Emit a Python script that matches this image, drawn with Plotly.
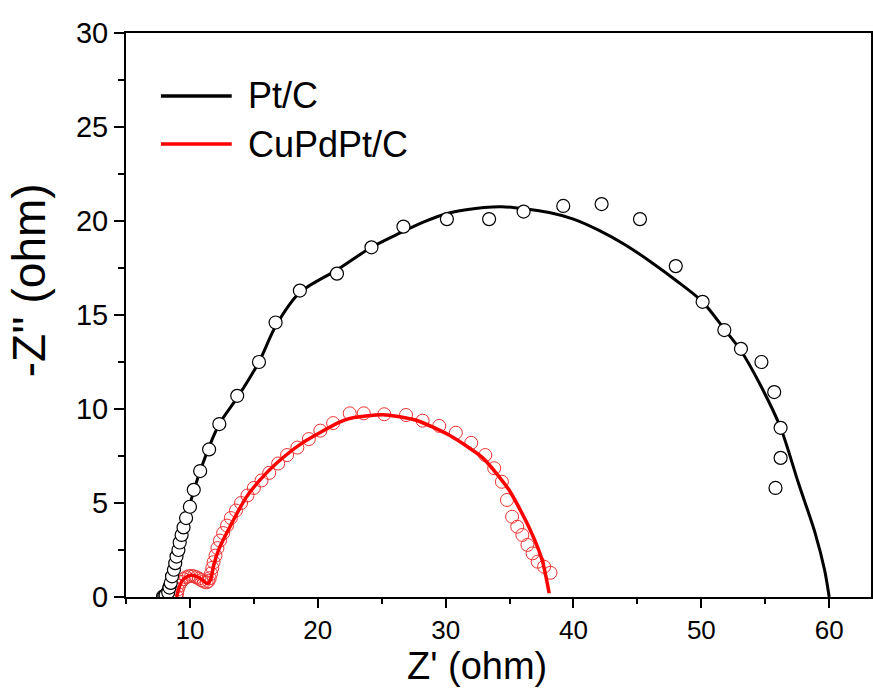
import plotly.graph_objects as go

# Pt/C measured points
pt_x = [7.9, 8.0, 8.1, 8.3, 8.4, 8.5, 8.6, 8.75, 8.85, 8.95, 9.1, 9.2, 9.35, 9.5, 9.7, 10.0, 10.3, 10.8,
        11.5, 12.3, 13.7, 15.4, 16.7, 18.6, 21.5, 24.2, 26.7, 30.1, 33.4, 36.1, 39.2, 42.2, 45.2, 48.0,
        50.1, 51.8, 53.1, 54.7, 55.7, 56.2, 56.2, 55.8]
pt_y = [0.02, 0.05, 0.1, 0.25, 0.5, 0.75, 1.1, 1.45, 1.8, 2.15, 2.5, 2.9, 3.3, 3.7, 4.2, 4.8, 5.7, 6.7,
        7.85, 9.2, 10.7, 12.5, 14.6, 16.3, 17.2, 18.6, 19.7, 20.1, 20.1, 20.5, 20.8, 20.9, 20.1, 17.6,
        15.7, 14.2, 13.2, 12.5, 10.9, 9.0, 7.4, 5.8]

# Pt/C fitted curve
pt_fit_x = [7.7, 8.0, 8.5, 9.0, 9.7, 10.8, 12.3, 13.8, 15.4, 16.7, 18.6, 21.5, 24.2, 26.4, 28.3, 30.1,
            31.6, 33.0, 34.4, 36.1, 38.1, 40.0, 42.0, 44.0, 46.0, 48.0, 50.1, 51.8, 53.1, 54.6, 56.2,
            57.6, 58.9, 59.65, 60.0]
pt_fit_y = [0.0, 0.6, 1.4, 2.25, 4.2, 6.7, 9.2, 10.7, 12.5, 14.4, 16.2, 17.4, 18.6, 19.35, 19.95, 20.4,
            20.6, 20.72, 20.76, 20.65, 20.45, 20.1, 19.5, 18.75, 17.85, 16.85, 15.7, 14.25, 13.1, 11.3, 9.0,
            6.05, 3.4, 1.4, 0.0]

# CuPdPt/C measured points
cu_x = [8.95, 9.0, 9.05, 9.15, 9.3, 9.5, 9.7, 9.9, 10.1, 10.3, 10.5, 10.7, 10.9, 11.1, 11.3, 11.45,
        11.55, 11.65, 11.75, 11.85, 12.0, 12.15, 12.35, 12.6, 12.9, 13.2, 13.6, 14.0, 14.5, 15.0, 15.6,
        16.2, 16.9, 17.6, 18.4, 19.3, 20.2, 21.2, 22.5, 23.6, 25.2, 26.9, 28.2, 29.5, 30.8, 32.0, 33.1,
        33.8, 34.4, 34.8, 35.2, 35.6, 36.0, 36.4, 36.8, 37.2, 37.7, 38.2]
cu_y = [0.05, 0.2, 0.4, 0.6, 0.8, 0.95, 1.05, 1.1, 1.12, 1.1, 1.05, 0.98, 0.9, 0.82, 0.78, 0.85,
        1.0, 1.25, 1.55, 1.85, 2.2, 2.6, 3.0, 3.4, 3.8, 4.2, 4.6, 5.0, 5.4, 5.8, 6.2,
        6.6, 7.1, 7.55, 7.95, 8.4, 8.85, 9.25, 9.77, 9.77, 9.72, 9.68, 9.38, 9.1, 8.74, 8.2, 7.55,
        6.85, 6.13, 5.16, 4.27, 3.74, 3.3, 2.77, 2.32, 1.88, 1.61, 1.29]

# CuPdPt/C fitted curve
cu_fit_x = [8.95, 9.2, 9.5, 10.0, 10.5, 11.0, 11.35, 11.6, 11.9, 12.3, 13.1, 14.4, 15.45, 16.75, 18.8,
            21.7, 22.5, 25.1, 27.7, 30.3, 32.9, 34.95, 36.5, 37.55, 38.1]
cu_fit_y = [0.0, 0.6, 0.95, 1.15, 1.1, 0.9, 0.7, 0.9, 1.8, 2.6, 3.7, 5.3, 6.2, 7.1, 8.2,
            9.3, 9.5, 9.7, 9.4, 8.6, 7.4, 5.7, 3.74, 1.97, 0.2]

series_names = ["Pt/C", "CuPdPt/C"]
x_ticks = [10, 20, 30, 40, 50, 60]
y_ticks = [0, 5, 10, 15, 20, 25, 30]

RED = "#ff0000"
FONT = "Arial, Liberation Sans, sans-serif"

fig = go.Figure()
fig.add_trace(go.Scatter(x=cu_x, y=cu_y, mode="markers", showlegend=False,
                         marker=dict(symbol="circle-open", size=13, color="#ee3030",
                                     line=dict(width=1, color="#ee3030"))))
fig.add_trace(go.Scatter(x=cu_fit_x, y=cu_fit_y, mode="lines", name=series_names[1], showlegend=False,
                         line=dict(color=RED, width=3.5, shape="spline", smoothing=0.6)))
fig.add_trace(go.Scatter(x=pt_fit_x, y=pt_fit_y, mode="lines", name=series_names[0], showlegend=False,
                         line=dict(color="black", width=3, shape="spline", smoothing=0.8)))
fig.add_trace(go.Scatter(x=pt_x, y=pt_y, mode="markers", showlegend=False,
                         marker=dict(symbol="circle", size=13, color="white",
                                     line=dict(width=1.2, color="black"))))

# legend drawn manually
leg = [(series_names[0], "black", 96), (series_names[1], RED, 144)]
for name, col, ypx in leg:
    yp = 1 - (ypx - 33) / 564
    x0 = (161 - 126) / 747
    x1 = (232 - 126) / 747
    fig.add_shape(type="line", xref="paper", yref="paper", x0=x0, x1=x1, y0=yp, y1=yp,
                  line=dict(color=col, width=3.5))
    fig.add_annotation(xref="paper", yref="paper", x=(246 - 126) / 747, y=yp, text=name,
                       showarrow=False, xanchor="left", yanchor="middle",
                       font=dict(family=FONT, size=36, color="black"))

# axis titles
fig.add_annotation(xref="paper", yref="paper", x=(478 - 126) / 747, y=-(688 - 597) / 564,
                   text="Z' (ohm)", showarrow=False, xanchor="center", yanchor="bottom",
                   borderpad=0,
                   font=dict(family=FONT, size=38, color="black"))
fig.add_annotation(xref="paper", yref="paper", x=-(126 - 29) / 747, y=1 - (280 - 33) / 564,
                   text="-Z'' (ohm)", showarrow=False, textangle=-90, xanchor="center", yanchor="middle",
                   font=dict(family=FONT, size=46, color="black"))

fig.update_layout(
    width=873, height=688,
    margin=dict(l=126, r=0, t=33, b=91),
    paper_bgcolor="white", plot_bgcolor="white",
    font=dict(family=FONT, color="black"),
    showlegend=False,
)
fig.update_xaxes(range=[5, 63.27], showgrid=False, zeroline=False, showline=True, mirror=True,
                 linecolor="black", linewidth=2, ticks="outside", ticklen=9, tickwidth=2,
                 tickcolor="black", tickvals=x_ticks, tickfont=dict(size=26, family=FONT),
                 minor=dict(ticks="outside", ticklen=5, tickwidth=2, tickcolor="black", dtick=5, tick0=5))
fig.update_yaxes(range=[0, 30], showgrid=False, zeroline=False, showline=True, mirror=True,
                 linecolor="black", linewidth=2, ticks="outside", ticklen=10, tickwidth=2,
                 tickcolor="black", tickvals=y_ticks, tickfont=dict(size=29, family=FONT),
                 minor=dict(ticks="outside", ticklen=6, tickwidth=2, tickcolor="black", dtick=2.5, tick0=0))

fig.write_html("out.html")
